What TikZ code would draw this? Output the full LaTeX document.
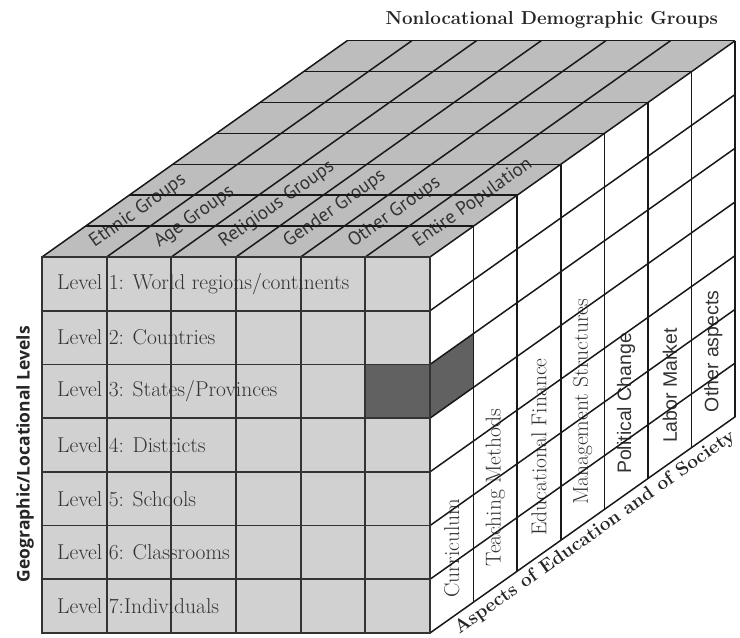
\documentclass[tikz,border=0pt]{standalone}
\usepackage{fontspec}
\newfontfamily\groupfont{PT Sans}
\newfontfamily\aspectfont{Liberation Sans}
\newfontfamily\axisfont{Open Sans}
\begin{document}
\begin{tikzpicture}[x={(64.667pt,0pt)},y={(0pt,53.714pt)},z={(43.6pt,30.9pt)},
    frontface/.style={fill=black!18},
    topface/.style={fill=black!26},
    markedcell/.style={fill=black!62},
    frontline/.style={draw=black!80,line width=1.8pt},
    sideline/.style={draw=black!90,line width=1.5pt},
    levellabel/.style={anchor=west,inner sep=0pt,xshift=15pt,text=black!80,font=\fontsize{21.5}{24}\selectfont},
    grouplabel/.style={anchor=base west,inner sep=0pt,rotate=35.3,text=black!80,font=\fontsize{19}{22}\groupfont},
    aspectlabel/.style={anchor=west,inner sep=0pt,rotate=90,text=black!80,font=\fontsize{21.5}{24}\selectfont},
    sansaspect/.style={font=\fontsize{19.5}{22}\aspectfont},
    axislabel/.style={text=black!85,font=\fontsize{18.8}{22}\bfseries}]
  \useasboundingbox[fill=white] (-42pt,-5pt) rectangle (698pt,633pt);
  % faces
  \fill[frontface] (0,0,0) rectangle (6,7,0);
  \fill[topface] (0,7,0) -- (6,7,0) -- (6,7,7) -- (0,7,7) -- cycle;
  \fill[markedcell] (5,4,0) rectangle (6,5,0);
  \fill[markedcell] (6,4,0) -- (6,4,1) -- (6,5,1) -- (6,5,0) -- cycle;
  % geographic levels
  \node[levellabel] (lvl1) at (0,6.5,0) {Level 1: World regions/continents};
  \node[levellabel] (lvl2) at (0,5.5,0) {Level 2: Countries};
  \node[levellabel] (lvl3) at (0,4.5,0) {Level 3: States/Provinces};
  \node[levellabel] (lvl4) at (0,3.5,0) {Level 4: Districts};
  \node[levellabel] (lvl5) at (0,2.5,0) {Level 5: Schools};
  \node[levellabel] (lvl6) at (0,1.5,0) {Level 6: Classrooms};
  \node[levellabel] (lvl7) at (0,0.5,0) {Level 7:Individuals};
  % demographic groups
  \node[grouplabel] (ethnic) at (0.61,7,0.3) {Ethnic Groups};
  \node[grouplabel] (age) at (1.61,7,0.3) {Age Groups};
  \node[grouplabel] (religious) at (2.61,7,0.3) {Religious Groups};
  \node[grouplabel] (gender) at (3.61,7,0.3) {Gender Groups};
  \node[grouplabel] (other) at (4.61,7,0.3) {Other Groups};
  \node[grouplabel] (entire) at (5.61,7,0.3) {Entire Population};
  % aspects
  \node[aspectlabel] (curriculum) at (6,0.37,0.5) {Curriculum};
  \node[aspectlabel] (teaching) at (6,0.37,1.5) {Teaching Methods};
  \node[aspectlabel] (finance) at (6,0.37,2.5) {Educational Finance};
  \node[aspectlabel] (management) at (6,0.37,3.5) {Management Structures};
  \node[aspectlabel,sansaspect] (political) at (6,0.37,4.5) {Political Change};
  \node[aspectlabel,sansaspect] (labor) at (6,0.37,5.5) {Labor Market};
  \node[aspectlabel,sansaspect] (otheraspects) at (6,0.37,6.5) {Other aspects};
  % axis titles
  \node[axislabel,rotate=90,anchor=south,inner sep=8pt,font=\fontsize{17.5}{22}\axisfont\bfseries] (levels) at (0,3.33,0) {Geographic/Locational Levels};
  \node[axislabel,anchor=south east,inner sep=0pt,xshift=-17pt,yshift=12pt] (groups) at (6,7,7) {Nonlocational Demographic Groups};
  \node[axislabel,rotate=35.3,anchor=north,inner sep=5pt,font=\fontsize{19}{22}\bfseries] (society) at (6,0,3.6) {Aspects of Education and of Society};
  % front grid
  \draw[frontline] (0,1,0) -- (6,1,0) (0,2,0) -- (6,2,0) (0,3,0) -- (6,3,0)
    (0,4,0) -- (6,4,0) (0,5,0) -- (6,5,0) (0,6,0) -- (6,6,0);
  \draw[frontline] (1,0,0) -- (1,7,0) (2,0,0) -- (2,7,0) (3,0,0) -- (3,7,0)
    (4,0,0) -- (4,7,0) (5,0,0) -- (5,7,0);
  % top grid
  \draw[sideline] (0,7,1) -- (6,7,1) (0,7,2) -- (6,7,2) (0,7,3) -- (6,7,3)
    (0,7,4) -- (6,7,4) (0,7,5) -- (6,7,5) (0,7,6) -- (6,7,6) (0,7,7) -- (6,7,7);
  \draw[sideline] (0,7,0) -- (0,7,7) (1,7,0) -- (1,7,7) (2,7,0) -- (2,7,7)
    (3,7,0) -- (3,7,7) (4,7,0) -- (4,7,7) (5,7,0) -- (5,7,7) (6,7,0) -- (6,7,7);
  % side grid
  \draw[sideline] (6,0,1) -- (6,7,1) (6,0,2) -- (6,7,2) (6,0,3) -- (6,7,3)
    (6,0,4) -- (6,7,4) (6,0,5) -- (6,7,5) (6,0,6) -- (6,7,6) (6,0,7) -- (6,7,7);
  \draw[sideline] (6,0,0) -- (6,0,7) (6,1,0) -- (6,1,7) (6,2,0) -- (6,2,7)
    (6,3,0) -- (6,3,7) (6,4,0) -- (6,4,7) (6,5,0) -- (6,5,7) (6,6,0) -- (6,6,7);
  % front outline
  \draw[frontline] (0,0,0) rectangle (6,7,0);
\end{tikzpicture}
\end{document}
